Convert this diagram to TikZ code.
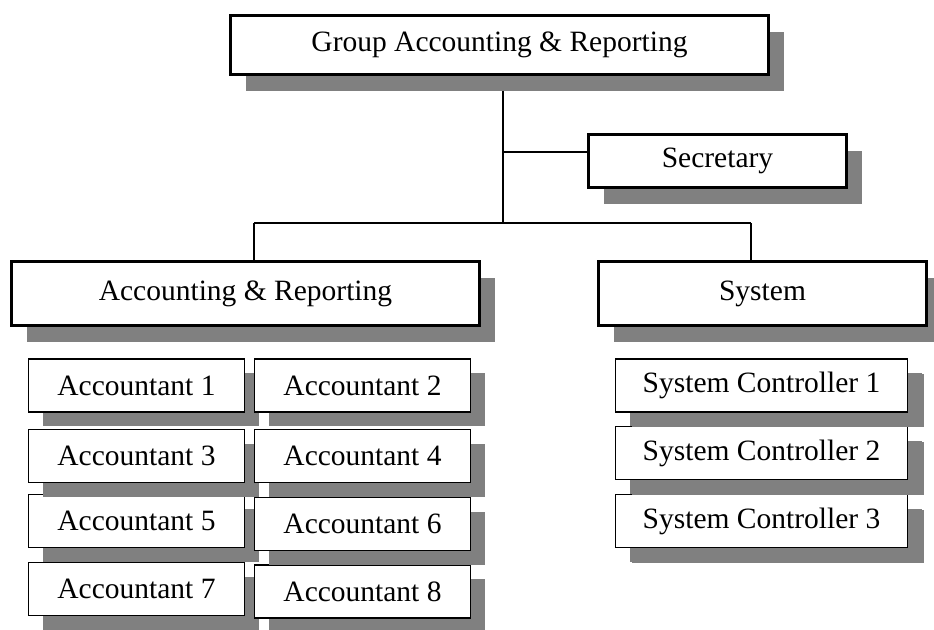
\documentclass[tikz,border=0pt]{standalone}
\usepackage{fontspec}
\setmainfont{Liberation Serif}
\usetikzlibrary{shadows}
\definecolor{shadowgray}{RGB}{128,128,128}
\begin{document}
\begin{tikzpicture}[x=1pt,y=-1pt,
  boxbase/.style={draw=black, fill=white, inner sep=0pt,
    font=\fontsize{29.5}{34}\selectfont},
  bigbox/.style={boxbase, line width=3pt,
    drop shadow={shadow xshift=15pt, shadow yshift=-16pt, fill=shadowgray, opacity=1}},
  smallbox/.style={boxbase, line width=1.2pt, minimum height=53pt,
    drop shadow={shadow xshift=14pt, shadow yshift=-14pt, fill=shadowgray, opacity=1}},
  accbox/.style={smallbox, minimum width=216pt},
  scbox/.style={smallbox, minimum width=292pt,
    drop shadow={shadow xshift=16pt, shadow yshift=-15pt, fill=shadowgray, opacity=1}},
  link/.style={draw=black, line width=1.1pt}]
\useasboundingbox (0,0) rectangle (934,629);
\fill[white] (0,0) rectangle (934,629);
\clip (0,0) rectangle (934,629);

% connector points
\coordinate (j0) at (503,80);
\coordinate (jsec) at (503,152);
\coordinate (jmid) at (503,223);
\coordinate (jl) at (254,223);
\coordinate (jr) at (751,223);
\coordinate (jla) at (254,262);
\coordinate (jra) at (751,262);
\coordinate (jsecend) at (590,152);

\draw[link] (j0) -- (jmid);
\draw[link] (jsec) -- (jsecend);
\draw[link] (jl) -- (jr);
\draw[link] (jl) -- (jla);
\draw[link] (jr) -- (jra);

% main boxes
\node[bigbox, minimum width=538pt, minimum height=59pt] (top) at (499.5,45) {Group Accounting \& Reporting};
\node[bigbox, minimum width=258pt, minimum height=53pt] (sec) at (717.5,161) {Secretary};
\node[bigbox, minimum width=468pt, minimum height=64pt] (acc) at (245.5,293.5) {Accounting \& Reporting};
\node[bigbox, minimum width=328pt, minimum height=64pt] (sys) at (762.5,293.5) {System};

% accountants, left column (bottom to top)
\node[accbox] (a7) at (136.5,589) {Accountant 7};
\node[accbox] (a5) at (136.5,521) {Accountant 5};
\node[accbox] (a3) at (136.5,456) {Accountant 3};
\node[accbox] (a1) at (136.5,385.5) {Accountant 1};
% right column
\node[accbox] (a8) at (362.5,591.5) {Accountant 8};
\node[accbox] (a6) at (362.5,524) {Accountant 6};
\node[accbox] (a4) at (362.5,456) {Accountant 4};
\node[accbox] (a2) at (362.5,385.5) {Accountant 2};

% system controllers
\node[scbox] (s3) at (761.5,521) {System Controller 3};
\node[scbox] (s2) at (761.5,453) {System Controller 2};
\node[scbox] (s1) at (761.5,385.5) {System Controller 1};
\end{tikzpicture}
\end{document}
